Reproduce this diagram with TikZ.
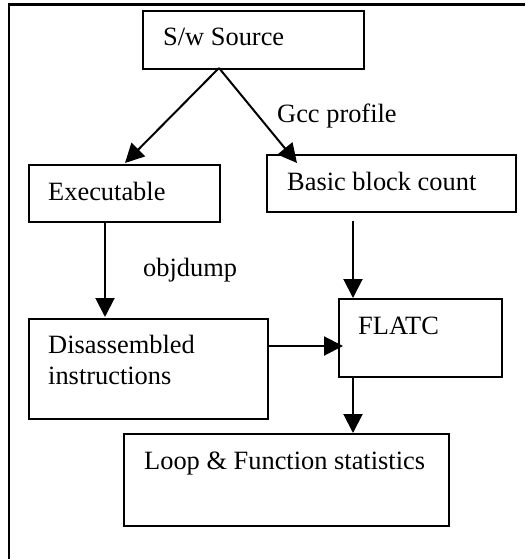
\documentclass[tikz,border=0pt]{standalone}
\usepackage{fontspec}
\setmainfont{Liberation Serif}
\usetikzlibrary{arrows.meta,calc}
\begin{document}
\begin{tikzpicture}[x=1pt,y=-1pt,
  box/.style={draw,line width=2pt,inner sep=0pt,anchor=north west},
  txt/.style={anchor=base west,inner sep=0pt,font=\fontsize{26.4}{31}\selectfont},
  conn/.style={line width=2pt,-{Triangle[length=19pt,width=19pt]}}]
\useasboundingbox (0,0) rectangle (525,559);
\draw[line width=2.2pt] (9,559) -- (9,4.5) -- (525,4.5);
% boxes
\node[box,minimum width=221pt,minimum height=58pt] (src) at (142,10) {};
\node[box,minimum width=191pt,minimum height=57pt] (exe) at (28,164) {};
\node[box,minimum width=249pt,minimum height=57pt] (bbc) at (266,154) {};
\node[box,minimum width=239pt,minimum height=100pt] (dis) at (28,318) {};
\node[box,minimum width=163pt,minimum height=78pt] (flatc) at (338,298) {};
\node[box,minimum width=325pt,minimum height=92pt] (stat) at (123,433) {};
% texts
\node[txt] (tsrc) at (163,46) {S/w Source};
\node[txt] (texe) at (48,200) {Executable};
\node[txt] (tbbc) at (287,190) {Basic block count};
\node[txt] (tgcc) at (277,122) {Gcc profile};
\node[txt] (tobj) at (143,276) {objdump};
\node[txt] (tflatc) at (358,334) {FLATC};
\node[txt] (tdis1) at (48,353) {Disassembled};
\node[txt] (tdis2) at (48,384) {instructions};
\node[txt] (tstat) at (144,469) {Loop \& Function statistics};
% connector endpoints
\coordinate (srcout) at (219,68);
\coordinate (exein) at (125,163);
\coordinate (bbcin) at (297,163);
\coordinate (exeout) at (105,221);
\coordinate (disin) at (105,317);
\coordinate (bbcout) at (353,221);
\coordinate (flatcin) at (353,298);
\coordinate (disout) at (267,346);
\coordinate (flatcleft) at (343,346);
\coordinate (flatcout) at (353,376);
\coordinate (statin) at (353,433);
% connectors
\draw[conn] (srcout) -- (exein);
\draw[conn] (srcout) -- (bbcin);
\draw[conn] (exeout) -- (disin);
\draw[conn] (bbcout) -- (flatcin);
\draw[conn] (disout) -- (flatcleft);
\draw[conn] (flatcout) -- (statin);
\end{tikzpicture}
\end{document}
